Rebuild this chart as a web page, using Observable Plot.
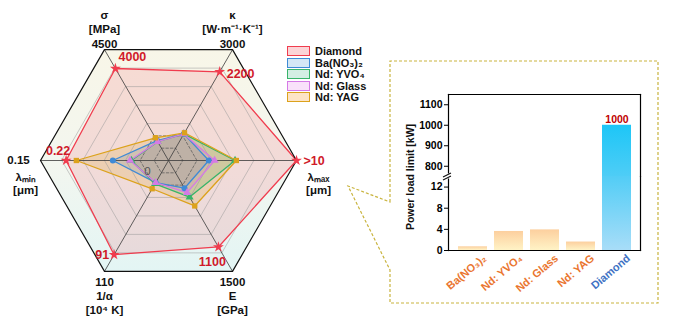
<!DOCTYPE html>
<html><head><meta charset="utf-8">
<script src="https://cdn.jsdelivr.net/npm/d3@7"></script>
<script src="https://cdn.jsdelivr.net/npm/@observablehq/plot@0.6"></script>
<style>
body{margin:0;background:#fff;font-family:"Liberation Sans",Arial,sans-serif;}
#root{position:relative;width:676px;height:331px;overflow:hidden;background:#fff;}
.abs{position:absolute;}
.leg{position:absolute;left:287px;font:bold 11px "Liberation Sans",Arial,sans-serif;color:#111;white-space:nowrap;}
.leg i{display:inline-block;width:21px;height:8px;border:1.5px solid;vertical-align:middle;margin-right:5px;position:relative;top:-1px;}
</style></head><body><div id="root"></div>
<script>
// ---------- radar data ----------
const axisTitles = ["σ", "κ", "λₘₐₓ", "E", "1/α", "λₘᵢₙ"];
const axisUnits = ["[MPa]", "[W·m⁻¹·K⁻¹]", "[μm]", "[GPa]", "[10⁴ K]", "[μm]"];
const axisMaxLabels = ["4500", "3000", "", "1500", "110", "0.15"];
const axisAngles = [120, 60, 0, -60, -120, 180];
const materials = ["Diamond", "Ba(NO₃)₂", "Nd: YVO₄", "Nd: Glass", "Nd: YAG"];
// normalized radial position (fraction of outer hexagon)
const diamond = [0.83, 0.80, 1.0, 0.78, 0.85, 0.80];
const baNO3   = [0.18, 0.24, 0.315, 0.25, 0.20, 0.435];
const ndYVO4  = [0.17, 0.24, 0.52, 0.33, 0.21, 0.29];
const ndGlass = [0.17, 0.24, 0.36, 0.29, 0.20, 0.30];
const ndYAG   = [0.205, 0.25, 0.53, 0.41, 0.255, 0.72];
const diamondValueLabels = ["4000", "2200", ">10", "1100", "91", "0.22"];
const lineColors = ["#f03c4e", "#3f8ad6", "#38b46a", "#d57ae6", "#dca21c"];
const fillOpacities = [0.14, 0.2, 0.2, 0.2, 0.2];
const swatchFills = ["#fbd4d7", "#d4e7f5", "#d3eee3", "#f9e1fa", "#fde4c6"];
const markerSymbols = ["star", "circle", "triangle", "triangle", "square"];
const solidRings = [1/3, 1/2, 2/3, 5/6];
const dashedRings = [1/9, 2/9];

// ---------- bar data ----------
const barCategories = ["Ba(NO₃)₂", "Nd: YVO₄", "Nd: Glass", "Nd: YAG", "Diamond"];
const powerLimit = [0.7, 3.6, 3.9, 1.6, 1000];
const upperTicks = [800, 900, 1000, 1100];
const lowerTicks = [0, 4, 8, 12];
const upperDomain = [750, 1150];
const lowerDomain = [0, 14];
const barLabelColors = ["#ea7630", "#ea7630", "#ea7630", "#ea7630", "#3f72c4"];

const root = document.getElementById("root");
const FONT = "Liberation Sans, Arial, sans-serif";

// ---------- radar ----------
const RW = 340, RH = 331, cx = 168, cy = 160, Rpx = 128;
const rad = a => a * Math.PI / 180;
const pt = (r, i) => ({x: r * Math.cos(rad(axisAngles[i])), y: r * Math.sin(rad(axisAngles[i]))});
const ringRows = levels => levels.flatMap(l => axisAngles.map((a, i) => ({level: l, ...pt(l, i)})));
const allVals = [diamond, baNO3, ndYVO4, ndGlass, ndYAG];
const rows = materials.flatMap((m, k) => allVals[k].map((v, i) => ({m, k, i, v, ...pt(v, i)})));
const verts = axisAngles.map((a, i) => ({i, ...pt(1, i)}));
const diaRows = rows.filter(d => d.m === "Diamond");

const txt = {fontFamily: FONT, fontWeight: "bold"};
const red = "#d01a2a";
const valLabel = (i, o) => Plot.text(diaRows.filter(d => d.i === i), {x: "x", y: "y", text: d => diamondValueLabels[d.i], fontSize: 12.5, fill: red, ...txt, ...o});
const radar = Plot.plot({
  width: RW, height: RH, margin: 0,
  x: {domain: [-cx / Rpx, (RW - cx) / Rpx], range: [0, RW], axis: null},
  y: {domain: [-(RH - cy) / Rpx, cy / Rpx], range: [RH, 0], axis: null},
  color: {domain: materials, range: lineColors},
  symbol: {domain: materials, range: markerSymbols},
  style: {fontFamily: FONT, background: "transparent", overflow: "visible"},
  marks: [
    Plot.line(verts, {x: "x", y: "y", curve: "linear-closed", fill: "url(#hexbg)", stroke: "none"}),
    ...materials.map((m, k) => Plot.line(rows.filter(d => d.k === k), {x: "x", y: "y", fill: "m", fillOpacity: fillOpacities[k], stroke: "none", curve: "linear-closed"})),
    Plot.line(ringRows(solidRings), {x: "x", y: "y", z: "level", curve: "linear-closed", stroke: "#999", strokeWidth: 0.6, strokeOpacity: 0.85}),
    Plot.line(ringRows(dashedRings), {x: "x", y: "y", z: "level", curve: "linear-closed", stroke: "#555", strokeWidth: 0.7, strokeDasharray: "2.5,2"}),
    Plot.link(verts, {x1: () => 0, y1: () => 0, x2: "x", y2: "y", stroke: "#3a3a3a", strokeWidth: 0.8}),
    Plot.line(rows, {x: "x", y: "y", z: "m", stroke: "m", strokeWidth: 1.3, curve: "linear-closed"}),
    Plot.line(verts, {x: "x", y: "y", curve: "linear-closed", stroke: "#111", strokeWidth: 1.2}),
    Plot.dot(rows, {x: "x", y: "y", fill: "m", symbol: "m", r: d => d.m === "Diamond" ? 4.4 : 3.4, stroke: "none"}),
    // axis titles
    Plot.text(verts.filter(d => d.i <= 1), {x: "x", y: "y", text: d => axisTitles[d.i] + "\n" + axisUnits[d.i] + "\n" + axisMaxLabels[d.i],
      lineAnchor: "bottom", dy: -2, fontSize: 11.5, lineHeight: 1.25, fill: "#111", ...txt}),
    Plot.text(verts.filter(d => d.i === 3 || d.i === 4), {x: "x", y: "y", text: d => axisMaxLabels[d.i] + "\n" + axisTitles[d.i] + "\n" + axisUnits[d.i],
      lineAnchor: "top", dy: 5, fontSize: 11.5, lineHeight: 1.22, fill: "#111", ...txt}),
    Plot.text(verts.filter(d => d.i === 5), {x: "x", y: "y", text: d => axisMaxLabels[d.i], dx: -22, fontSize: 11.5, fill: "#111", ...txt}),
    Plot.text(verts.filter(d => d.i === 5), {x: "x", y: "y", text: d => axisTitles[d.i] + "\n" + axisUnits[d.i], dx: -15, dy: 12, lineAnchor: "top", lineHeight: 1.1, fontSize: 11.5, fill: "#111", ...txt}),
    Plot.text(verts.filter(d => d.i === 2), {x: "x", y: "y", text: d => axisTitles[d.i] + "\n" + axisUnits[d.i], dx: 22, dy: 12, lineAnchor: "top", lineHeight: 1.1, fontSize: 11.5, fill: "#111", ...txt}),
    // diamond value labels
    valLabel(0, {dx: 17, dy: -11}),
    valLabel(1, {dx: 7, dy: 2, textAnchor: "start"}),
    valLabel(2, {dx: 7, dy: 0, textAnchor: "start"}),
    valLabel(3, {dx: -6, dy: 15}),
    valLabel(4, {dx: -5, dy: 0, textAnchor: "end"}),
    valLabel(5, {dx: -8, dy: -10}),
    // center zero
    Plot.text([0], {x: () => 0, y: () => 0, text: () => "0", dx: -21, dy: 11, fontSize: 11.5, fill: "#555", fontFamily: FONT})
  ]
});
d3.select(radar).insert("defs", ":first-child").html(
  `<linearGradient id="hexbg" x1="0" y1="0" x2="0" y2="1">
     <stop offset="0" stop-color="#f8f6e8"/><stop offset="0.5" stop-color="#f3f6ef"/><stop offset="1" stop-color="#e3f5f4"/>
   </linearGradient>`);
radar.style.position = "absolute"; radar.style.left = "0px"; radar.style.top = "0px";
root.appendChild(radar);

// legend
materials.forEach((m, k) => {
  const d = document.createElement("div");
  d.className = "leg";
  d.style.top = (45 + k * 11.5) + "px";
  d.innerHTML = `<i style="background:${swatchFills[k]};border-color:${lineColors[k]}"></i>${m}`;
  root.appendChild(d);
});

// ---------- callout ----------
const ns = "http://www.w3.org/2000/svg";
const call = document.createElementNS(ns, "svg");
call.setAttribute("width", 676); call.setAttribute("height", 331);
call.style.position = "absolute"; call.style.left = "0"; call.style.top = "0";
call.innerHTML = `<path d="M390,202 L390,61 L658,61 L658,303 L390,303 L390,270 L348,186 Z" fill="#fff" stroke="#c9b43e" stroke-width="1.2" stroke-dasharray="3,2"/>`;
root.appendChild(call);

// ---------- bars ----------
const barRows = barCategories.map((c, k) => ({cat: c, v: powerLimit[k], color: barLabelColors[k]}));
const diaBar = barRows.filter(d => d.cat === "Diamond");
const smallBars = barRows.filter(d => d.cat !== "Diamond");
const BW = 270, ML = 58, MR = 20;
const axisOpts = {tickSize: 4, tickPadding: 2, fontWeight: "bold", fontSize: 10.5, label: null, tickFormat: d => String(d)};

const upper = Plot.plot({
  width: BW, height: 92, marginLeft: ML, marginRight: MR, marginTop: 10, marginBottom: 0,
  x: {domain: barCategories, padding: 0.2, axis: null},
  y: {domain: upperDomain},
  style: {fontFamily: FONT, background: "transparent", overflow: "visible", fontSize: "10.5px"},
  marks: [
    Plot.barY(diaBar, {x: "cat", y: "v", fill: "url(#gDiaTop)", clip: true}),
    Plot.text(diaBar, {x: "cat", y: "v", text: d => String(d.v), dy: -6, fill: "#c00000", fontWeight: "bold", fontSize: 10.5}),
    Plot.axisY({ticks: upperTicks, ...axisOpts}),
    Plot.frame({anchor: "top", strokeWidth: 1.2}),
    Plot.frame({anchor: "left", strokeWidth: 1.2}),
    Plot.frame({anchor: "right", strokeWidth: 1.2})
  ]
});
const uy = upper.scale("y");
d3.select(upper).insert("defs", ":first-child").html(
  `<linearGradient id="gDiaTop" gradientUnits="userSpaceOnUse" x1="0" y1="${uy.apply(upperDomain[1])}" x2="0" y2="${uy.apply(upperDomain[0])}">
     <stop offset="0" stop-color="#00c2f7"/><stop offset="1" stop-color="#4ecdf6"/></linearGradient>`);
upper.style.position = "absolute"; upper.style.left = "390px"; upper.style.top = "84px";
root.appendChild(upper);

const lower = Plot.plot({
  width: BW, height: 124, marginLeft: ML, marginRight: MR, marginTop: 0, marginBottom: 50,
  x: {domain: barCategories, padding: 0.2, axis: null},
  y: {domain: lowerDomain},
  style: {fontFamily: FONT, background: "transparent", overflow: "visible", fontSize: "10.5px"},
  marks: [
    Plot.barY(smallBars, {x: "cat", y: "v", fill: "url(#gOr)"}),
    Plot.barY(diaBar, {x: "cat", y: "v", fill: "url(#gDiaBot)", clip: true}),
    Plot.axisY({ticks: lowerTicks, ...axisOpts}),
    Plot.text(barRows, {x: "cat", frameAnchor: "bottom", text: "cat", rotate: -40, textAnchor: "end", dx: 14, dy: 9,
      fill: "color", fontWeight: "bold", fontSize: 11}),
    Plot.frame({anchor: "bottom", strokeWidth: 1.2}),
    Plot.frame({anchor: "left", strokeWidth: 1.2}),
    Plot.frame({anchor: "right", strokeWidth: 1.2})
  ]
});
const ly = lower.scale("y");
d3.select(lower).insert("defs", ":first-child").html(
  `<linearGradient id="gDiaBot" gradientUnits="userSpaceOnUse" x1="0" y1="${ly.apply(lowerDomain[1])}" x2="0" y2="${ly.apply(lowerDomain[0])}">
     <stop offset="0" stop-color="#52cdf6"/><stop offset="1" stop-color="#a8ddf8"/></linearGradient>
   <linearGradient id="gOr" x1="0" y1="0" x2="0" y2="1">
     <stop offset="0" stop-color="#fccf9e"/><stop offset="1" stop-color="#fff3c6"/></linearGradient>`);
lower.style.position = "absolute"; lower.style.left = "390px"; lower.style.top = "176px";
root.appendChild(lower);

// axis break marks and y title
const brk = document.createElementNS(ns, "svg");
brk.setAttribute("width", 12); brk.setAttribute("height", 12);
brk.style.position = "absolute"; brk.style.left = "442px"; brk.style.top = "170px";
brk.innerHTML = `<rect x="4" y="3.5" width="4" height="5" fill="#fff"/><path d="M1,7 L9,3 M1,10 L9,6" stroke="#111" stroke-width="1.1"/>`;
root.appendChild(brk);

const yt = document.createElement("div");
yt.className = "abs";
yt.style.cssText = "left:410px;top:177px;transform:translate(-50%,-50%) rotate(-90deg);font:bold 10.5px 'Liberation Sans',Arial,sans-serif;white-space:nowrap;color:#111;";
yt.textContent = "Power load limit [kW]";
root.appendChild(yt);
</script></body></html>
